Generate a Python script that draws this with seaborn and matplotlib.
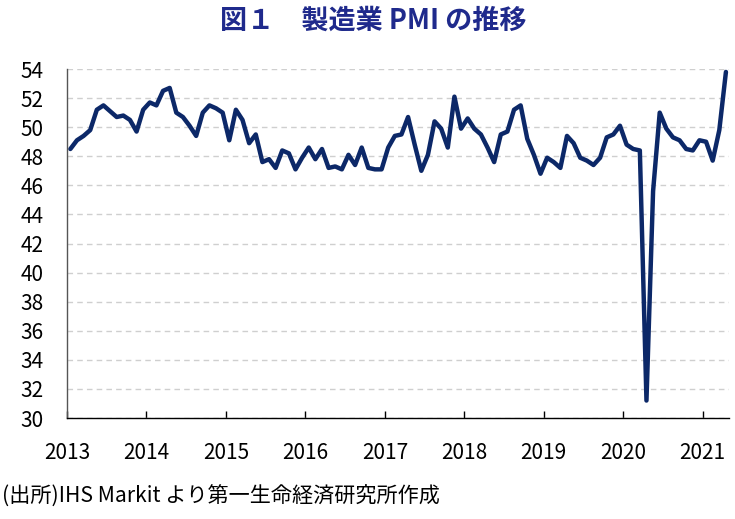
import pandas as pd
import matplotlib
matplotlib.use("Agg")
import matplotlib.pyplot as plt
import seaborn as sns

# Manufacturing PMI, monthly, Jan 2013 - Apr 2021
start_month = "2013-01"
pmi = [
    48.5, 49.1, 49.4, 49.8, 51.2, 51.5, 51.1, 50.7, 50.8, 50.5, 49.7, 51.2,  # 2013
    51.7, 51.5, 52.5, 52.7, 51.0, 50.7, 50.1, 49.4, 51.0, 51.5, 51.3, 51.0,  # 2014
    49.1, 51.2, 50.5, 48.9, 49.5, 47.6, 47.8, 47.2, 48.4, 48.2, 47.1, 47.9,  # 2015
    48.6, 47.8, 48.5, 47.2, 47.3, 47.1, 48.1, 47.4, 48.6, 47.2, 47.1, 47.1,  # 2016
    48.6, 49.4, 49.5, 50.7, 48.8, 47.0, 48.1, 50.4, 49.9, 48.6, 52.1, 49.9,  # 2017
    50.6, 49.9, 49.5, 48.6, 47.6, 49.5, 49.7, 51.2, 51.5, 49.2, 48.1, 46.8,  # 2018
    47.9, 47.6, 47.2, 49.4, 48.9, 47.9, 47.7, 47.4, 47.9, 49.3, 49.5, 50.1,  # 2019
    48.8, 48.5, 48.4, 31.2, 45.6, 51.0, 49.9, 49.3, 49.1, 48.5, 48.4, 49.1,  # 2020
    49.0, 47.7, 49.8, 53.8,                                                  # 2021
]
years = list(range(2013, 2022))
y_ticks = list(range(30, 55, 2))

title = "図１　製造業 PMI の推移"
source = "(出所)IHS Markit より第一生命経済研究所作成"

dates = pd.date_range(start_month, periods=len(pmi), freq="MS")
df = pd.DataFrame({
    "x": dates.year + (dates.month - 0.5) / 12,  # mid-month position
    "pmi": pmi,
})

sns.set_theme(style="white")
plt.rcParams["font.family"] = ["Noto Sans CJK JP", "DejaVu Sans"]

fig = plt.figure(figsize=(7.35, 5.19), dpi=100)
ax = fig.add_axes([0.0912, 0.1946, 0.9006, 0.6724])

sns.lineplot(data=df, x="x", y="pmi", ax=ax, color="#0c2868",
             linewidth=3.2, solid_capstyle="round", solid_joinstyle="round")

ax.set_xlim(2013, 2021.33)
ax.set_ylim(30, 54)
ax.set_xticks(years)
ax.set_xticklabels([str(y) for y in years])
ax.set_yticks(y_ticks)
ax.set_xlabel("")
ax.set_ylabel("")

ax.yaxis.grid(True, color="#cfcfcf", linestyle=(0, (4, 3)), linewidth=1.0)
ax.set_axisbelow(True)

for side in ["top", "right"]:
    ax.spines[side].set_visible(False)
ax.spines["left"].set_color("#555555")
ax.spines["left"].set_linewidth(1.0)
ax.spines["bottom"].set_color("black")
ax.spines["bottom"].set_linewidth(1.0)

ax.tick_params(axis="x", direction="in", length=5, width=1, color="black",
               labelsize=15, labelcolor="black", pad=17, bottom=True)
ax.tick_params(axis="y", length=0, labelsize=15, labelcolor="black", pad=17)

fig.text(0.508, 0.961, title, ha="center", va="center", fontsize=19.5,
         fontweight="bold", color="#1f2a8c")
fig.text(0.003, 0.043, source, ha="left", va="center", fontsize=15.2,
         color="black")

fig.savefig("out.png", dpi=100)
